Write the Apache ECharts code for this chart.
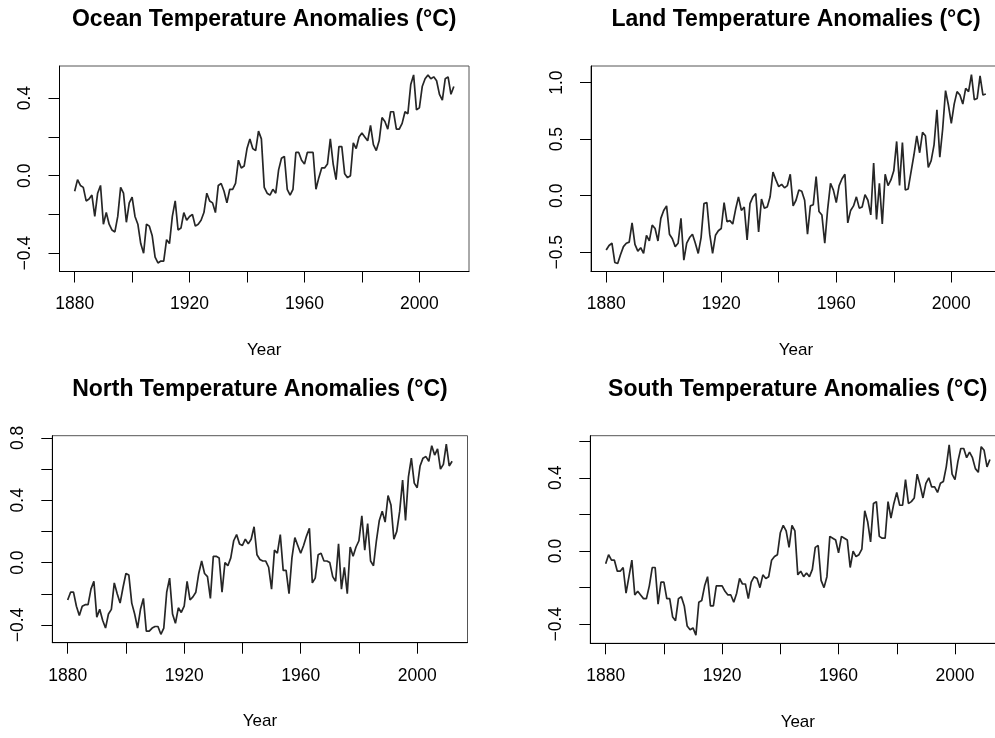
<!DOCTYPE html>
<html>
<head>
<meta charset="utf-8">
<script src="https://cdn.jsdelivr.net/npm/echarts@6/dist/echarts.min.js"></script>
<style>
html,body{margin:0;padding:0;background:#fff;}
#chart{width:995px;height:738px;}
</style>
</head>
<body>
<div id="chart"></div>
<script>
// ---- data ----
const startYear = 1880;
const ocean = [
 -0.08,-0.02,-0.05,-0.06,-0.13,-0.12,-0.10,-0.21,-0.09,-0.05,
 -0.25,-0.19,-0.25,-0.28,-0.29,-0.21,-0.06,-0.09,-0.24,-0.14,
 -0.11,-0.21,-0.25,-0.35,-0.40,-0.25,-0.26,-0.31,-0.42,-0.45,
 -0.44,-0.44,-0.33,-0.35,-0.21,-0.13,-0.28,-0.27,-0.19,-0.23,
 -0.21,-0.20,-0.26,-0.25,-0.23,-0.19,-0.09,-0.13,-0.14,-0.19,
 -0.05,-0.04,-0.08,-0.14,-0.07,-0.07,-0.04,0.08,0.04,0.05,
 0.14,0.19,0.14,0.13,0.23,0.19,-0.06,-0.09,-0.10,-0.07,
 -0.09,0.03,0.09,0.10,-0.07,-0.10,-0.07,0.12,0.12,0.08,
 0.06,0.12,0.12,0.12,-0.07,-0.01,0.04,0.04,0.06,0.19,
 0.06,-0.02,0.15,0.15,0.01,-0.01,0.00,0.17,0.14,0.20,
 0.22,0.20,0.18,0.26,0.16,0.13,0.18,0.30,0.28,0.24,
 0.33,0.33,0.24,0.24,0.27,0.33,0.32,0.47,0.52,0.34,
 0.35,0.46,0.50,0.52,0.50,0.51,0.49,0.42,0.39,0.50,
 0.51,0.42,0.46
];
const land = [
 -0.48,-0.44,-0.42,-0.59,-0.60,-0.52,-0.45,-0.42,-0.41,-0.24,
 -0.43,-0.49,-0.46,-0.51,-0.35,-0.40,-0.26,-0.29,-0.40,-0.20,
 -0.13,-0.09,-0.34,-0.38,-0.45,-0.42,-0.20,-0.57,-0.42,-0.37,
 -0.34,-0.42,-0.51,-0.37,-0.07,-0.06,-0.34,-0.51,-0.35,-0.31,
 -0.29,-0.06,-0.23,-0.22,-0.25,-0.12,-0.01,-0.13,-0.10,-0.39,
 -0.07,-0.01,0.02,-0.32,-0.03,-0.11,-0.10,-0.01,0.21,0.14,
 0.08,0.10,0.07,0.09,0.19,-0.09,-0.04,0.05,0.04,-0.04,
 -0.34,-0.09,-0.08,0.17,-0.14,-0.17,-0.42,-0.12,0.11,0.05,
 -0.06,0.09,0.15,0.19,-0.24,-0.13,-0.09,-0.01,-0.11,-0.10,
 0.01,-0.04,-0.17,0.29,-0.21,0.11,-0.25,0.19,0.09,0.14,
 0.22,0.48,0.09,0.47,0.05,0.06,0.21,0.36,0.53,0.38,
 0.56,0.53,0.25,0.31,0.45,0.76,0.34,0.59,0.93,0.80,
 0.64,0.81,0.92,0.89,0.81,0.95,0.92,1.07,0.85,0.86,
 1.06,0.89,0.90
];
const north = [
 -0.24,-0.19,-0.19,-0.28,-0.34,-0.28,-0.27,-0.27,-0.17,-0.12,
 -0.35,-0.30,-0.37,-0.42,-0.33,-0.30,-0.13,-0.20,-0.26,-0.16,
 -0.07,-0.08,-0.26,-0.33,-0.42,-0.30,-0.23,-0.44,-0.44,-0.42,
 -0.41,-0.41,-0.46,-0.42,-0.19,-0.10,-0.33,-0.39,-0.29,-0.32,
 -0.28,-0.12,-0.24,-0.22,-0.19,-0.07,0.01,-0.07,-0.09,-0.23,
 0.04,0.04,0.03,-0.19,0.00,-0.02,0.03,0.14,0.18,0.12,
 0.11,0.15,0.12,0.15,0.23,0.05,0.02,0.01,0.01,-0.03,
 -0.17,0.08,0.06,0.18,-0.05,-0.05,-0.20,0.03,0.16,0.11,
 0.06,0.11,0.17,0.22,-0.13,-0.10,0.05,0.06,0.01,0.01,
 0.00,-0.09,-0.12,0.12,-0.17,-0.03,-0.20,0.10,0.04,0.10,
 0.14,0.30,0.08,0.25,0.01,-0.02,0.14,0.27,0.33,0.26,
 0.43,0.37,0.15,0.20,0.33,0.53,0.27,0.55,0.67,0.51,
 0.48,0.62,0.67,0.68,0.65,0.75,0.69,0.73,0.60,0.63,
 0.76,0.62,0.65
];
const south = [
 -0.07,-0.02,-0.05,-0.05,-0.11,-0.11,-0.09,-0.23,-0.14,-0.05,
 -0.24,-0.22,-0.24,-0.26,-0.26,-0.19,-0.09,-0.09,-0.29,-0.17,
 -0.17,-0.26,-0.26,-0.36,-0.38,-0.26,-0.25,-0.30,-0.41,-0.43,
 -0.42,-0.46,-0.28,-0.27,-0.19,-0.14,-0.30,-0.30,-0.19,-0.19,
 -0.19,-0.22,-0.24,-0.24,-0.28,-0.23,-0.15,-0.18,-0.18,-0.26,
 -0.17,-0.14,-0.15,-0.20,-0.13,-0.15,-0.14,-0.05,-0.03,-0.02,
 0.10,0.14,0.11,0.02,0.14,0.11,-0.13,-0.11,-0.14,-0.12,
 -0.14,-0.10,0.02,0.03,-0.16,-0.20,-0.14,0.08,0.07,0.06,
 -0.01,0.08,0.07,0.06,-0.09,0.00,-0.03,-0.02,0.01,0.22,
 0.16,0.05,0.26,0.27,0.08,0.07,0.07,0.27,0.18,0.26,
 0.32,0.25,0.25,0.39,0.26,0.27,0.29,0.42,0.36,0.29,
 0.37,0.40,0.35,0.35,0.32,0.37,0.38,0.46,0.58,0.42,
 0.39,0.49,0.56,0.56,0.51,0.54,0.51,0.45,0.43,0.57,
 0.55,0.46,0.50
];
const titles = [
 'Ocean Temperature Anomalies (°C)',
 'Land Temperature Anomalies (°C)',
 'North Temperature Anomalies (°C)',
 'South Temperature Anomalies (°C)'
];
const xTicks = [1880, 1900, 1920, 1940, 1960, 1980, 2000];
const xLabels = [1880, 1920, 1960, 2000];
const yTicks = [
 [-0.4, -0.2, 0, 0.2, 0.4],
 [-0.5, 0, 0.5, 1.0],
 [-0.4, -0.2, 0, 0.2, 0.4, 0.6, 0.8],
 [-0.4, -0.2, 0, 0.2, 0.4, 0.6]
];
const yLabels = [
 [-0.4, 0, 0.4],
 [-0.5, 0, 0.5, 1.0],
 [-0.4, 0, 0.4, 0.8],
 [-0.4, 0, 0.4]
];
const xName = 'Year';

// ---- layout / style ----
const seriesList = [ocean, land, north, south];
const years = ocean.map((_, i) => startYear + i);
const boxes = [
 {left: 59.5, top: 66, width: 409.5, height: 205.5, ymin: -0.494, ymax: 0.566},
 {left: 591, top: 66, width: 410, height: 205.5, ymin: -0.670, ymax: 1.147},
 {left: 52.3, top: 435.7, width: 415.2, height: 207, ymin: -0.514, ymax: 0.814},
 {left: 590.3, top: 435.7, width: 415, height: 207.6, ymin: -0.504, ymax: 0.630}
];
const xMin = 1874.72, xMax = 2017.28;
const FONT = "'Liberation Sans', Arial, Helvetica, sans-serif";
const fmtY = v => (v < 0 ? '\u2212' : '') + Math.abs(v).toFixed(1);

const option = {
 animation: false,
 backgroundColor: '#ffffff',
 title: boxes.map((b, i) => ({
   text: titles[i],
   left: b.left + b.width / 2,
   top: i < 2 ? 20 : 390,
   textAlign: 'center',
   textVerticalAlign: 'middle',
   padding: 0,
   textStyle: {fontFamily: FONT, fontSize: 23, fontWeight: 'bold', color: '#000'}
 })),
 grid: boxes.map(b => ({
   left: b.left, top: b.top, width: b.width, height: b.height,
   containLabel: false, outerBoundsMode: 'none',
   show: true, borderColor: '#555', borderWidth: 1, backgroundColor: 'transparent'
 })),
 xAxis: boxes.map((b, i) => ({
   type: 'value', gridIndex: i, min: xMin, max: xMax,
   name: xName, nameLocation: 'middle', nameGap: 79,
   nameTextStyle: {fontFamily: FONT, fontSize: 17, color: '#000', verticalAlign: 'middle'},
   axisLine: {show: true, onZero: false, lineStyle: {color: '#000', width: 1}},
   axisTick: {show: true, length: 11, customValues: xTicks, lineStyle: {color: '#000', width: 1}},
   axisLabel: {show: true, customValues: xLabels, margin: 33, verticalAlign: 'middle',
     fontFamily: FONT, fontSize: 17.5, color: '#000', formatter: v => String(v)},
   splitLine: {show: false}
 })),
 yAxis: boxes.map((b, i) => ({
   type: 'value', gridIndex: i, min: b.ymin, max: b.ymax,
   axisLine: {show: true, onZero: false, lineStyle: {color: '#000', width: 1}},
   axisTick: {show: true, length: 11, customValues: yTicks[i], lineStyle: {color: '#000', width: 1}},
   axisLabel: {show: true, customValues: yLabels[i], rotate: 90, margin: 34, verticalAlign: 'middle',
     fontFamily: FONT, fontSize: 17.5, color: '#000', formatter: fmtY},
   splitLine: {show: false}
 })),
 series: seriesList.map((s, i) => ({
   type: 'line', xAxisIndex: i, yAxisIndex: i,
   data: s.map((v, j) => [years[j], v]),
   showSymbol: false, symbol: 'none',
   lineStyle: {color: '#262626', width: 1.7},
   silent: true
 }))
};
const chart = echarts.init(document.getElementById('chart'), null, {renderer: 'canvas'});
chart.setOption(option);
</script>
</body>
</html>
